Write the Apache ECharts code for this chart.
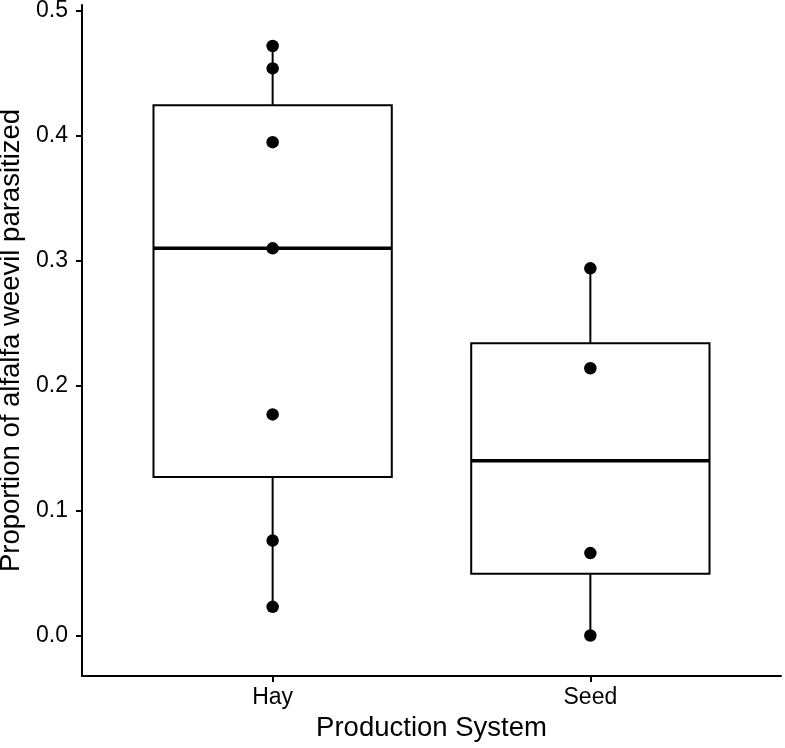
<!DOCTYPE html>
<html>
<head>
<meta charset="utf-8">
<script src="https://cdn.jsdelivr.net/npm/echarts@6/dist/echarts.min.js"></script>
<style>
html,body{margin:0;padding:0;background:#fff;}
#chart{width:785px;height:748px;}
</style>
</head>
<body>
<div id="chart"></div>
<script>
const categories = ['Hay', 'Seed'];
const boxMin = [0.023, 0.0];
const boxQ1 = [0.127, 0.0495];
const boxMedian = [0.310, 0.140];
const boxQ3 = [0.4245, 0.234];
const boxMax = [0.472, 0.294];
const hayPoints = [0.472, 0.454, 0.395, 0.310, 0.177, 0.076, 0.023];
const seedPoints = [0.294, 0.214, 0.066, 0.0];
const yTicks = [0, 0.1, 0.2, 0.3, 0.4, 0.5];
const xTicks = [1, 2];

const FONT = 'Liberation Sans, Arial, sans-serif';
const halfW = 0.375;

const boxData = categories.map((c, i) => [i + 1, boxMin[i], boxQ1[i], boxMedian[i], boxQ3[i], boxMax[i]]);
const pointData = [].concat(
  hayPoints.map(v => [1, v]),
  seedPoints.map(v => [2, v])
);

const chart = echarts.init(document.getElementById('chart'), null, {renderer: 'canvas'});
chart.setOption({
  animation: false,
  backgroundColor: '#ffffff',
  grid: {left: 82, right: 4, top: 5, bottom: 72, containLabel: false, outerBoundsMode: 'none'},
  xAxis: {
    type: 'value',
    min: 0.4,
    max: 2.6,
    name: 'Production System',
    nameLocation: 'middle',
    nameGap: 38,
    nameTextStyle: {fontFamily: FONT, fontSize: 27.5, color: '#000'},
    axisLine: {show: true, onZero: false, lineStyle: {color: '#000', width: 2}},
    axisTick: {show: true, length: 6, customValues: xTicks, lineStyle: {color: '#000', width: 2}},
    axisLabel: {
      show: true, margin: 10, customValues: xTicks,
      fontFamily: FONT, fontSize: 23, color: '#000',
      formatter: v => categories[Math.round(v) - 1] || ''
    },
    splitLine: {show: false}
  },
  yAxis: {
    type: 'value',
    min: -0.0324,
    max: 0.5048,
    name: 'Proportion of alfalfa weevil parasitized',
    nameLocation: 'middle',
    nameGap: 49,
    nameRotate: 90,
    nameTextStyle: {fontFamily: FONT, fontSize: 27.5, color: '#000'},
    axisLine: {show: true, onZero: false, lineStyle: {color: '#000', width: 2}},
    axisTick: {show: true, length: 6, customValues: yTicks, lineStyle: {color: '#000', width: 2}},
    axisLabel: {
      show: true, margin: 14, customValues: yTicks,
      fontFamily: FONT, fontSize: 23, color: '#000',
      formatter: v => v.toFixed(1)
    },
    splitLine: {show: false}
  },
  series: [
    {
      type: 'custom',
      data: boxData,
      encode: {x: 0, y: [1, 2, 3, 4, 5]},
      renderItem: function (params, api) {
        const x = api.value(0);
        const mn = api.value(1), q1 = api.value(2), md = api.value(3), q3 = api.value(4), mx = api.value(5);
        const pTopL = api.coord([x - halfW, q3]);
        const pBotR = api.coord([x + halfW, q1]);
        const cMax = api.coord([x, mx]);
        const cQ3 = api.coord([x, q3]);
        const cQ1 = api.coord([x, q1]);
        const cMin = api.coord([x, mn]);
        const mL = api.coord([x - halfW, md]);
        const mR = api.coord([x + halfW, md]);
        const thin = {stroke: '#000', lineWidth: 2, fill: null};
        return {
          type: 'group',
          children: [
            {type: 'line', shape: {x1: cMax[0], y1: cMax[1], x2: cQ3[0], y2: cQ3[1]}, style: thin},
            {type: 'line', shape: {x1: cQ1[0], y1: cQ1[1], x2: cMin[0], y2: cMin[1]}, style: thin},
            {type: 'rect', shape: {x: pTopL[0], y: pTopL[1], width: pBotR[0] - pTopL[0], height: pBotR[1] - pTopL[1]},
              style: {stroke: '#000', lineWidth: 2, fill: '#fff'}},
            {type: 'line', shape: {x1: mL[0], y1: mL[1], x2: mR[0], y2: mR[1]}, style: {stroke: '#000', lineWidth: 3.5}}
          ]
        };
      },
      z: 2
    },
    {
      type: 'scatter',
      data: pointData,
      symbol: 'circle',
      symbolSize: 12.5,
      itemStyle: {color: '#000', opacity: 1},
      z: 3
    }
  ]
});
</script>
</body>
</html>
